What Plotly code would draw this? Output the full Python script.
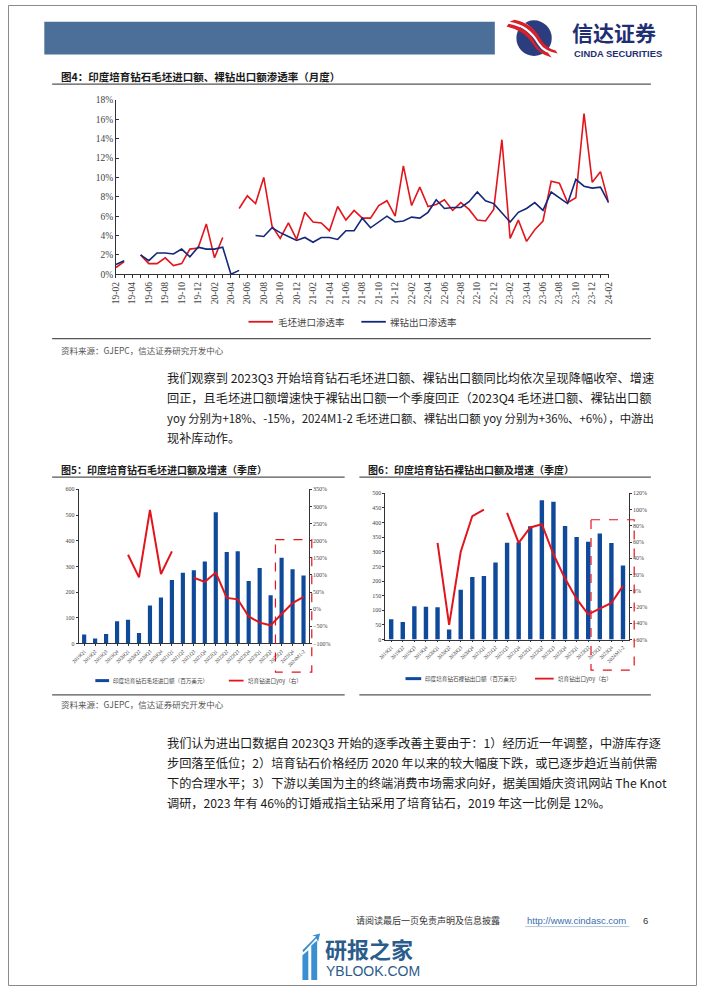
import plotly.graph_objects as go

W, H = 702, 991
def X(px): return px / W
def Y(py): return 1 - py / H

# ---------------- data ----------------
months = ["19-02","19-03","19-04","19-05","19-06","19-07","19-08","19-09","19-10","19-11","19-12",
          "20-01","20-02","20-03","20-04","20-05","20-06","20-07","20-08","20-09","20-10","20-11","20-12",
          "21-01","21-02","21-03","21-04","21-05","21-06","21-07","21-08","21-09","21-10","21-11","21-12",
          "22-01","22-02","22-03","22-04","22-05","22-06","22-07","22-08","22-09","22-10","22-11","22-12",
          "23-01","23-02","23-03","23-04","23-05","23-06","23-07","23-08","23-09","23-10","23-11","23-12",
          "24-01","24-02"]
rough_import_pen = [0.7, 1.3, None, 2.0, 1.1, 1.1, 1.7, 0.9, 1.1, 2.6, 2.7, 5.2, 1.7, 3.8, None, 6.8,
                    8.1, 7.3, 10.0, 5.0, 3.7, 5.3, 3.6, 6.4, 5.4, 5.3, 4.5, 7.0, 5.6, 6.6, 5.8, 5.8,
                    7.1, 7.6, 6.0, 11.2, 7.1, 9.0, 7.0, 7.2, 7.7, 6.6, 7.4, 6.7, 5.6, 5.5, 6.7, 13.9,
                    3.7, 5.6, 3.4, 4.6, 5.5, 9.6, 9.4, 7.4, 7.9, 16.6, 9.5, 10.6, 7.4]
polished_export_pen = [1.0, 1.4, None, 2.0, 1.4, 2.2, 2.2, 2.1, 2.6, 1.8, 2.8, 2.6, 2.6, 2.8, 0.0, 0.4,
                       None, 4.0, 3.9, 4.8, 4.3, 3.9, 3.5, 3.8, 3.3, 3.8, 3.8, 3.6, 4.5, 4.5, 5.8, 4.8,
                       5.4, 6.0, 5.4, 5.5, 5.9, 5.8, 6.4, 7.7, 6.8, 6.9, 6.9, 7.5, 8.5, 7.6, 7.3, 6.4,
                       5.4, 6.4, 6.8, 7.4, 6.6, 8.5, 7.9, 7.3, 9.8, 9.1, 8.9, 9.0, 7.4]
month_ticktext = [m if i % 2 == 0 else "" for i, m in enumerate(months)]

quarters = ["2019Q1","2019Q2","2019Q3","2019Q4","2020Q1","2020Q2","2020Q3","2020Q4",
            "2021Q1","2021Q2","2021Q3","2021Q4","2022Q1","2022Q2","2022Q3","2022Q4",
            "2023Q1","2023Q2","2023Q3","2023Q4","2024M1-2"]
rough_import = [35, 19, 37, 87, 92, 41, 148, 179, 247, 275, 285, 319, 511, 356, 359, 243, 294, 188, 334, 289, 265]
rough_yoy = [None, None, None, None, 159, 93, 290, 103, 169, None, 92, 80, 107, 33, 29, -21, -39, -47, -14, 18, 36]
polished_export = [69, 60, 114, 112, 110, 34, 170, 214, 217, 263, 331, 333, 387, 476, 471, 388, 351, 334, 363, 330, 253]
polished_yoy = [None, None, None, None, 59, -42, 48, 92, 100, None, 96, 59, 78, 82, 45, 15, -10, -29, -22, -15, 6]

RED = "#e2151d"
NAVY = "#14287a"
BAR = "#0f4a9a"
SERIF = "Liberation Serif"
CJK = "Noto Sans CJK SC"

fig = go.Figure()

# Figure 4 lines
fig.add_trace(go.Scatter(x=months, y=rough_import_pen, mode="lines", line=dict(color=RED, width=1.6),
                         xaxis="x", yaxis="y", showlegend=False))
fig.add_trace(go.Scatter(x=months, y=polished_export_pen, mode="lines", line=dict(color=NAVY, width=1.6),
                         xaxis="x", yaxis="y", showlegend=False))
# Figure 5
fig.add_trace(go.Bar(x=quarters, y=rough_import, marker=dict(color=BAR, line=dict(width=0)), width=0.38,
                     xaxis="x2", yaxis="y2", showlegend=False))
fig.add_trace(go.Scatter(x=quarters, y=rough_yoy, mode="lines", line=dict(color=RED, width=2),
                         xaxis="x2", yaxis="y3", showlegend=False))
# Figure 6
fig.add_trace(go.Bar(x=quarters, y=polished_export, marker=dict(color=BAR, line=dict(width=0)), width=0.38,
                     xaxis="x3", yaxis="y4", showlegend=False))
fig.add_trace(go.Scatter(x=quarters, y=polished_yoy, mode="lines", line=dict(color=RED, width=2),
                         xaxis="x3", yaxis="y5", showlegend=False))

axcol = "#333"
tickfont = dict(family=SERIF, size=9.5, color="#444")
small = dict(family=SERIF, size=6, color="#444")
tiny = dict(family=SERIF, size=5.2, color="#444")

fig.update_layout(
    width=W, height=H, autosize=False,
    margin=dict(l=0, r=0, t=0, b=0),
    paper_bgcolor="white", plot_bgcolor="rgba(0,0,0,0)",
    xaxis=dict(domain=[X(110), X(612)], type="category", range=[0, 60],
               tickmode="array", tickvals=months, ticktext=month_ticktext,
               tickangle=-90, tickfont=tickfont, ticks="outside", ticklen=3, tickcolor=axcol,
               showline=True, linecolor=axcol, linewidth=1, showgrid=False, zeroline=False,
               anchor="y"),
    yaxis=dict(domain=[Y(272), Y(96)], range=[0, 18], dtick=2, ticksuffix="%",
               tickfont=tickfont, ticks="inside", ticklen=3, tickcolor=axcol,
               showline=True, linecolor=axcol, linewidth=1, showgrid=False, zeroline=False,
               anchor="x"),
    xaxis2=dict(domain=[X(72), X(306.7)], type="category", range=[-0.5, 20.5],
                tickmode="array", tickvals=quarters, ticktext=quarters,
                tickangle=-45, tickfont=tiny, ticks="outside", ticklen=2, tickcolor=axcol,
                showline=True, linecolor=axcol, linewidth=0.8, showgrid=False, zeroline=False,
                anchor="y2"),
    yaxis2=dict(domain=[Y(645), Y(489.3)], range=[0, 600], dtick=100, tickfont=small,
                ticks="outside", ticklen=2, tickcolor=axcol, showline=True, linecolor=axcol,
                linewidth=0.8, showgrid=False, zeroline=False, anchor="x2"),
    yaxis3=dict(range=[-100, 350], dtick=50, ticksuffix="%", tickfont=small, overlaying="y2",
                side="right", ticks="outside", ticklen=2, tickcolor=axcol, showline=True,
                linecolor=axcol, linewidth=0.8, showgrid=False, zeroline=False, anchor="x2"),
    xaxis3=dict(domain=[X(384.5), X(632.5)], type="category", range=[-0.5, 20.5],
                tickmode="array", tickvals=quarters, ticktext=quarters,
                tickangle=-45, tickfont=tiny, ticks="outside", ticklen=2, tickcolor=axcol,
                showline=True, linecolor=axcol, linewidth=0.8, showgrid=False, zeroline=False,
                anchor="y4"),
    yaxis4=dict(domain=[Y(641), Y(493.3)], range=[0, 500], dtick=50, tickfont=small,
                ticks="outside", ticklen=2, tickcolor=axcol, showline=True, linecolor=axcol,
                linewidth=0.8, showgrid=False, zeroline=False, anchor="x3"),
    yaxis5=dict(range=[-60, 120], dtick=20, ticksuffix="%", tickfont=small, overlaying="y4",
                side="right", ticks="outside", ticklen=2, tickcolor=axcol, showline=True,
                linecolor=axcol, linewidth=0.8, showgrid=False, zeroline=False, anchor="x3"),
)

shapes = []
def rect(x0, y0, x1, y1, **kw):
    shapes.append(dict(type="rect", xref="paper", yref="paper", x0=X(x0), y0=Y(y0), x1=X(x1), y1=Y(y1), **kw))
def hline(x0, x1, y, color="#555", width=1.2, dash="solid"):
    shapes.append(dict(type="line", xref="paper", yref="paper", x0=X(x0), x1=X(x1), y0=Y(y), y1=Y(y),
                       line=dict(color=color, width=width, dash=dash)))
def path(pts_str, **kw):
    shapes.append(dict(type="path", xref="paper", yref="paper", path=pts_str, **kw))

# page border
rect(0.5, 0.5, 701.5, 990.5, line=dict(color="#8a8a8a", width=1))
# header bar
rect(37, 17, 496, 50, fillcolor="#4b6f98", line=dict(width=0))
# logo circle
cx, cy, r = 536, 33.5, 18
shapes.append(dict(type="circle", xref="paper", yref="paper", x0=X(cx - r), x1=X(cx + r),
                   y0=Y(cy + r), y1=Y(cy - r), fillcolor="#2b3d7f", line=dict(width=0)))
def P(px, py): return f"{X(px):.5f},{Y(py):.5f}"
# red/white swooshes
path(f"M {P(509, 18)} Q {P(530, 22)} {P(540, 40)} Q {P(546, 50)} {P(562, 52)} L {P(558, 47)} "
     f"Q {P(546, 44)} {P(541, 33)} Q {P(532, 17)} {P(515, 14)} Z",
     fillcolor="white", line=dict(width=0))
path(f"M {P(511, 17)} Q {P(531, 20)} {P(541, 38)} Q {P(547, 47)} {P(560, 49)} L {P(558, 46)} "
     f"Q {P(547, 43)} {P(542, 33)} Q {P(533, 18)} {P(516, 15)} Z",
     fillcolor="#d7202a", line=dict(width=0))
path(f"M {P(508, 22)} Q {P(526, 25)} {P(535, 40)} Q {P(541, 50)} {P(554, 53)} L {P(550, 48)} "
     f"Q {P(540, 46)} {P(536, 36)} Q {P(528, 22)} {P(510, 19)} Z",
     fillcolor="#d7202a", line=dict(width=0))

# figure rules
hline(45, 655, 80)
hline(45, 655, 337)
hline(45, 343, 477)
hline(358, 655, 477)
hline(45, 343, 697)
hline(358, 655, 697)
# dashed highlight boxes
rect(272.5, 540, 309.5, 674, line=dict(color=RED, width=1.2, dash="dash"))
rect(594, 520, 638, 672, line=dict(color=RED, width=1.2, dash="dash"))

# legends
hline(245, 270, 320, color=RED, width=1.8)
hline(360, 385, 320, color=NAVY, width=1.8)
hline(89, 103, 682.5, color=BAR, width=3)
hline(225, 240, 682.5, color=RED, width=1.8)
hline(405, 421, 680.5, color=BAR, width=3)
hline(537, 556, 680.5, color=RED, width=1.8)

ann = []
def text(x, y, s, size, color="#222", family=CJK, anchor="left", bold=False, **kw):
    if bold:
        s = f"<b>{s}</b>"
    ann.append(dict(xref="paper", yref="paper", x=X(x), y=Y(y), text=s, showarrow=False,
                    xanchor=anchor, yanchor="middle", font=dict(size=size, color=color, family=family), **kw))

# logo text
text(573, 27.5, "信达证券", 21, color="#1f2f73", bold=True)
text(575, 48.8, "CINDA SECURITIES", 9.4, color="#1f2f73", family="Liberation Sans", bold=True)

text(52, 72, "图4：印度培育钻石毛坯进口额、裸钻出口额渗透率（月度）", 10.5, color="#1a1a1a", bold=True)
text(273, 320, "毛坯进口渗透率", 9.5, color="#444")
text(387, 320, "裸钻出口渗透率", 9.5, color="#444")
text(52, 349, "资料来源：GJEPC，信达证券研究开发中心", 8.5, color="#555")

para1 = ["我们观察到 2023Q3 开始培育钻石毛坯进口额、裸钻出口额同比均依次呈现降幅收窄、增速",
         "回正，且毛坯进口额增速快于裸钻出口额一个季度回正（2023Q4 毛坯进口额、裸钻出口额",
         "yoy 分别为+18%、-15%，2024M1-2 毛坯进口额、裸钻出口额 yoy 分别为+36%、+6%），中游出",
         "现补库动作。"]
para1_sizes = [12.2, 12.2, 11.4, 12.2]
for i, s in enumerate(para1):
    text(160, 377 + i * 20.3, s, para1_sizes[i], color="#1a1a1a")

text(52, 469, "图5：印度培育钻石毛坯进口额及增速（季度）", 10, color="#1a1a1a", bold=True)
text(365, 469, "图6：印度培育钻石裸钻出口额及增速（季度）", 10, color="#1a1a1a", bold=True)
text(105, 682.5, "印度培育钻石毛坯进口额（百万美元）", 5.6, color="#444")
text(242, 682.5, "培育钻进口yoy（右）", 5.6, color="#444")
text(423, 680.5, "印度培育钻石裸钻出口额（百万美元）", 5.6, color="#444")
text(558, 680.5, "培育钻出口yoy（右）", 5.6, color="#444")
text(52, 706, "资料来源：GJEPC，信达证券研究开发中心", 8.5, color="#555")

para2 = ["我们认为进出口数据自 2023Q3 开始的逐季改善主要由于：1）经历近一年调整，中游库存逐",
         "步回落至低位；2）培育钻石价格经历 2020 年以来的较大幅度下跌，或已逐步趋近当前供需",
         "下的合理水平；3）下游以美国为主的终端消费市场需求向好，据美国婚庆资讯网站 The Knot",
         "调研，2023 年有 46%的订婚戒指主钻采用了培育钻石，2019 年这一比例是 12%。"]
for i, s in enumerate(para2):
    text(160, 745.5 + i * 20.3, s, 12.2, color="#1a1a1a")

# footer
text(353, 924.5, "请阅读最后一页免责声明及信息披露", 9, color="#333")
text(527, 924.5, "http://www.cindasc.com", 9.5, color="#3a6fb0", family="Liberation Sans")
hline(527, 633, 931, color="#9ab8d8", width=0.8)
text(645, 924.5, "6", 9.5, color="#333", family="Liberation Sans")

# watermark
text(321, 953, "研报之家", 22, color="#2a5c8c", bold=True)
text(322, 976, "YBLOOK.COM", 14, color="#2a5c8c", family="Liberation Sans")
path(f"M {P(300, 985)} L {P(300, 960)} L {P(306, 955)} L {P(306, 985)} Z", fillcolor="#3a8fd0", line=dict(width=0))
path(f"M {P(309, 985)} L {P(309, 950)} L {P(315, 945)} L {P(315, 985)} Z", fillcolor="#3a8fd0", line=dict(width=0))
path(f"M {P(300, 955)} L {P(314, 941)} L {P(310, 940)} L {P(318, 938)} L {P(316, 946)} L {P(314, 943)} L {P(301, 957)} Z",
     fillcolor="#3a8fd0", line=dict(width=0))

fig.update_layout(shapes=shapes, annotations=ann)
fig.write_html("out.html", config={"displayModeBar": False},
               post_script="document.body.style.margin='0';document.body.style.padding='0';"
                           "document.body.style.overflow='hidden';")
